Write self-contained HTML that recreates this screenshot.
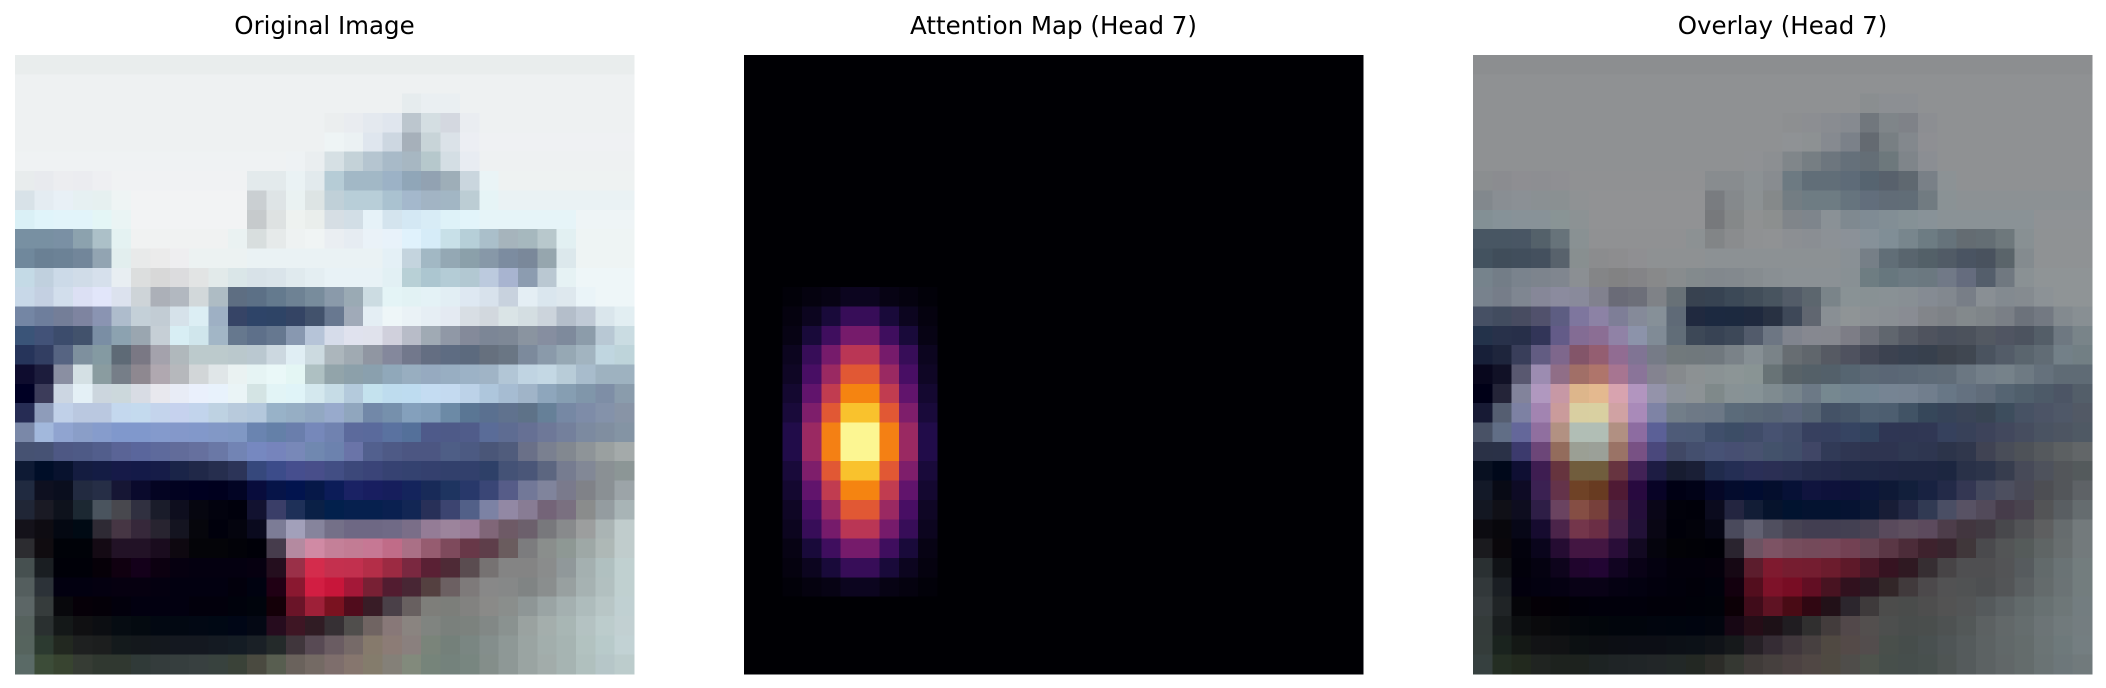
<!DOCTYPE html>
<html><head><meta charset="utf-8">
<style>
html,body{margin:0;padding:0;background:#fff;}
body{width:2106px;height:688px;overflow:hidden;}
svg{display:block;}
text{font-family:"DejaVu Sans","Liberation Sans",sans-serif;font-size:24.5px;fill:#000;}
</style></head>
<body>
<svg id="fig" width="2106" height="688" viewBox="0 0 2106 688" shape-rendering="crispEdges">
  <text x="324.5" y="34" text-anchor="middle">Original Image</text>
  <text x="1053.5" y="34" text-anchor="middle">Attention Map (Head 7)</text>
  <text x="1782.5" y="34" text-anchor="middle">Overlay (Head 7)</text>
  <g id="p1"></g>
  <g id="p2"></g>
  <g id="p3"></g>
</svg>
<script>
// Original 32x32 image pixels (run-length tokens "hex*n")
const imageRows = [
"e9eded*32",
"eef1f2*32",
"eef1f2*20 e6ecee eaeff2*2 eef1f2*9",
"eef1f2*16 ebeeef e9ecf0 e4e9ef e0e6ee bcc6ce d4dee2 d4d8e0 eaedf1 eef1f2*8",
"eef1f2*16 eef4f5 ebf1f3 dfe6ee cdd7e1 a6b0ba c8d4d8 dbe2e8 eceef3 eff1f3*8",
"eff2f3*14 eef2f4 eaeef0 d6e0e4 c4d2d8 b5c5d0 a8bac8 a7b7c2 b6c8cc d4dee4 e8ecf2 eef1f2*8",
"e8eced e8eaee ecedf0 ebecf0 eeeff2 f0f2f3*7 e3eaec e3eaec eaf2f4 e2eaed b6ccd6 a2b8c6 a2b8c6 9cb2c6 90a6b8 92a2b2 9eaeb8 cad6de eaf4f6 eef2f2*7",
"d8e2e8 e4ecf2 e8f0f6 e6f0f2 e6f0f0 eef4f4 f2f3f4*6 cacfd2 dee4e6 eaf2f2 dde4e4 c0d0d8 b8ced8 b8ced8 aac2d0 a4b8cc a2b4c4 a2b6c4 bccdd4 e6f4f6 eaf2f4*7",
"daf0f6 e0f4fa e2f4fa e2f4fa e4f6f6 eaf4f4 f2f3f4*6 c6cacc dee2e2 eef2f0 eaeeec d6dee4 d2dee6 e6f2f8 d4e4ee d4e8f4 d8ecf6 def2f8 e2f4fa e6f4f8*5 eef4f6*3",
"7890a2 7890a2 7a90a4 8ca2ae acc0c8 e4f2f2 f0f2f2*5 eaf2f2 d8dede e6eaea eef2f2 f0f4f4 eaeef2 e6ecf2 eaf2f8 e8f2fa e0f2fc d6ecf8 c8e0e8 b6cfd8 aabfca a6b4bc a6b8be b8c8cc e2f0f2 eef4f4*3",
"70889c 6a8094 6c8296 72869a 92a4b2 e2eeee e8eaea ebebeb eeeef0 ecf2f2*3 eaf2f4*7 e4f0f6 c4d4de a2b8c4 94a8b4 8ba0aa 8798a8 7c8ca0 7a889a 96a6ae dce8ec eef4f4*3",
"c4dae6 c0d0de ccdae8 d0dce8 d6e0ec e8eef2 dcdede d8d8d8 dcdcde e2e4e4 e2eaea dae6e8 d8e2e8 dae4ea e0eaee e4eef2 e8f2f6*3 e2f0f4 b8d0d6 acc6d0 b4ccd6 b2c8d2 bccade a8b4d0 8c9cb0 bac8d2 e6f2f4 eef6f8*3",
"c8d8e8 c4d0e2 d2deec dce0f4 e2e6fa dce2ee ced4d8 acb0b8 b2b8c0 d2d8da aebcc4 5e6e82 5c7086 647a8e 6e8294 788c9c 8a9aaa 9aaab4 ccdce2 e4f4f6 e2f2f4 e4f2f6 e2eef4 dee8f2 d8e2ec c8d2de e4eef4 dae6ee dee8ee eaf4f8 eef6f8*2",
"7486a4 6e7e9c 747e98 7e84a0 8a94b2 aebccc c4d0d8 c2ccd4 d6e2ea dceef4 9eb0c4 364466 2e4468 2e4466 344464 42526c 687890 a0aab8 e4eef4 eef6f8 eaf2f6 e6eef4 e4eaf2 d8dee4 d2d8de dae4e6 d4dee2 ccd4dc b4beca c0cad6 dae6ec e2eef2",
"3a5478 425278 3c4c6c 42526c 7a8ea4 8ca2b0 9aa6b0 c6cfd6 d8eef4 d0e6ec a2b6c6 66788e 5e708a 667890 8898b0 b6c4d8 d6dcea e0e2ee e0e2ec d0d0dc b8bcc8 a0aab4 9098a6 848a9a 7c8696 7e8896 8a94a0 868ea0 7e8a9c 8c9caa b8c8d4 cadce2",
"26345a 323e62 566482 7e909e 849aa2 5e6a76 7a7884 a4a2ac b0b8bc bccacc bccacc bac8cc bac8d0 ccd8e0 e0eef4 ccdae0 acb6bc a0aab2 9096a2 84889c 72788c 646e82 5e6c82 5c6a7e 66707e 6a7684 7c8a9c 8a9aaa 96a8b4 a2b4c0 c0d6e0 bed4da",
"0e0c2e 1c1c3c 8a8fa2 d4e0e4 8a9ca0 767e88 8e8890 b0a8b0 b6b8bc d2d6d8 e0e6e8 eaf2f2 e6f4f4 eaf8f8 e4f6f4 aec0c2 92a4aa 8ca0aa 8aa0ae 90a8ba 98aec0 96aac0 98aec2 9cb2c6 a0b4c6 b2c6d6 c0d4e2 c4d8e4 b8ccd8 a8bccc 9eb2c0 9eb2c0",
"000024 3c3c5a ccd6e2 e4f0f6 ccd6de ccd8dc d8dce4 e8e8ee e8ecf6 eaf0fc e8f2fc eaf4f6 d4e4e4 e2f4f6 e0f4f8 d4e8ee c6dce6 b4cadc c4e2ee bedcee bedcf0 c4dcf2 c4daf0 bcd2e8 aec6dc a6bcd2 a0b4c8 8ea6bc 869eb2 8096aa 7e8ea6 8a9cac",
"262c54 8e9cba c0d0e8 bac8e0 bac8e0 c4d8ee c4daee c4d4ec c6d2ee c2d4ec bed2e2 b8cadc b4c8dc 98b2c8 96aec4 92a8c2 98aacc 90a6be 7288a8 7690ac 84a0bc 809cb8 6c8aa6 5a7694 5a7090 60728e 5e7288 668098 7688a4 7e8ca8 8492aa 8894a6",
"7a88a8 a2b8dc 90a4d0 8a9ec8 869ccc 8098cc 8098cc 849acc 8498ca 8298ca 8298c6 8098c4 6a84b0 6480a8 6a7eac 7688ba 7082b0 5c6a9c 5a6a9c 5a72a0 54709a 4e5a8a 4e5a88 505c8a 5a6c98 5e6c92 667094 6e7898 74809c 7c8aa0 808ea0 8494a4",
"465272 465274 4e5884 4e5a86 525e8c 5a6496 5a669c 5e6a9c 626c9a 66709e 6a78a6 7284b4 7688c0 7684bc 7888b8 7088b0 6c82ae 6a74a8 52608e 4e5a86 4c5682 4c5682 4e5e86 4c5a82 4a5678 505c7c 6a7088 7a8090 828890 8e9498 9aa0a0 a4aaaa",
"0e1a34 000e28 08122e 141c40 141c44 161a48 141a48 161c48 1a2448 202848 262e4e 2c3458 36487c 3c4c8a 464e8e 484e8a 424e84 3c487a 3a4478 364272 344270 34406e 32406c 32406c 2e4068 445276 4a5678 5c6680 767c90 828896 8a9094 8c9696",
"202a40 0e1020 0a0e1e 222a40 262e46 161634 0a0a2c 040422 020220 000020 00001e 020424 080c3c 061448 02144e 061848 0c1c58 1a2264 181e60 161e5c 14245c 182a58 1e3460 28386a 3a4676 565c88 727898 80849c 7a7a8c 808288 8a9094 9ca4a8",
"202636 1a1a24 0e121c 1c2832 4a545e 48484e 303040 1a1c2a 0e0e1e 060610 02020e 00000c 121230 3a3e68 1e3058 0a2046 02204c 06204e 06204e 0a2050 122654 283058 3c4470 526088 7c82a4 9288a4 887c94 746478 7a7080 8a8c8c 949ca0 a8b4b6",
"14121a 0e0c12 040812 000a14 2e2a34 463644 36283a 282430 141420 06060c 00000c 04040e 0a0a1e 7c7c96 a2a0ba 86849c 747088 6e6884 6e6884 706a86 7a6e88 947c96 9c849c 9a7c98 806678 6e5a66 6c606c 78787c 888a8c 9c9e9e aab4b4 c0cccc",
"2c2c30 100c10 000208 000208 140a14 221226 221226 1a0c1e 0e0810 040408 040408 020208 000008 463c4c b48aa0 d08aa4 c48098 c27c94 c67894 c06c88 aa7086 965c70 7e4a5c 683848 5e3e4a 6a5c5e 7c7c7e 8a8e8c 8e9894 9ea8a6 aeb8b6 c0cccc",
"465050 1a1e22 000008 000008 060008 100010 14001a 0c0010 060010 040010 040010 040010 060010 240e1e 9a3048 d42c4c c4304e c2304e b42e48 9c2a42 7a2840 5a2034 4e2a36 5a4c50 767272 848484 848484 8a8c8c 90989a a4b0b0 b0c0c0 c0d0d0",
"545e5e 2c3238 020010 020010 040010 060010 060010 040010 020010 020010 020010 02000c 000210 200014 8a1830 d21e42 c8163a a41838 782034 521c30 482634 544040 6c6062 7e7a7a 888888 868888 808484 8a8e8e 98a0a0 a6b2b2 b2c0c0 c0d0d0",
"5c6666 363c3c 08080c 060008 040008 02000c 020010 020010 020010 02000c 02000c 00020c 00040c 140008 6a1428 9e2038 7a1220 500c1c 381c26 4a4048 686060 7e7e7a 7c7e7a 828280 8a8a88 8a8e8c 8e9696 9aa4a4 a4b0b0 aebcbc b8c6c6 c0d0d2",
"56625e 2a3030 141818 101012 0c0e12 060c12 040a10 020812 020812 020814 000814 000616 040814 260c1e 3e1624 301c24 363034 504e4c 706462 887878 8a8480 808480 7a807c 7c827e 828886 8a9290 9aa2a0 a4aeac a8b6b4 b4c2c2 bccccc c2d0d2",
"56645e 2c3a30 222820 1e2020 1c1e1e 141a1c 14181c 14181e 141820 141820 141a22 141c24 1a2026 242a2a 40363c 584a54 6a5c62 766a68 867a6c 8c7c76 8a807e 7a847a 74807a 7a8682 848e8c 8e9896 9aa4a2 a2aeac a6b4b2 b2c2c0 b8caca c2d2d4",
"5a6a66 3c4c38 384430 363c34 303830 303830 303a38 343c3c 363e3e 384040 38423e 3a4238 4a4a40 585e50 6a625c 746a64 7e6e6c 86766e 847c6c 848078 828a7c 76847a 74827c 788680 848e8a 8e9896 9aa4a2 a2acaa a6b4b2 b0c0be b6c6c8 bccccc"
];
// Attention weights: rows 12..27, cols 2..9 (left half cols 2..5, mirrored)
const attnRowStart = 12;
const attnColStart = 2;
const attnHalfRows = [
 [0.01,0.02,0.03,0.05],
 [0.02,0.05,0.10,0.18],
 [0.03,0.10,0.20,0.33],
 [0.05,0.18,0.33,0.50],
 [0.06,0.22,0.42,0.62],
 [0.08,0.28,0.52,0.73],
 [0.10,0.35,0.62,0.86],
 [0.13,0.42,0.72,0.98]
];
const panelX = [15, 744, 1473];
const panelY = 55, panelSize = 619, N = 32;

const infernoStops = [[0,0,4],[31,12,72],[85,15,109],[136,34,106],[186,54,85],[227,89,51],[249,140,10],[249,201,50],[252,255,164]];
function inferno(v){
  v=Math.max(0,Math.min(1,v));
  const p=v*(infernoStops.length-1), i=Math.min(Math.floor(p),infernoStops.length-2), f=p-i;
  const a=infernoStops[i], b=infernoStops[i+1];
  return [0,1,2].map(k=>a[k]+(b[k]-a[k])*f);
}
function parseRow(s){
  const out=[];
  s.trim().split(/\s+/).forEach(t=>{const [h,n]=t.split('*');for(let i=0;i<(n?+n:1);i++)out.push(h);});
  while(out.length<N) out.push(out[out.length-1]);
  return out.slice(0,N);
}
const img = imageRows.map(parseRow);
const attn = [];
for(let r=0;r<N;r++){attn.push(new Array(N).fill(0));}
const fullRows = attnHalfRows.concat(attnHalfRows.slice().reverse());
fullRows.forEach((hr,ri)=>{
  const full = hr.concat(hr.slice().reverse());
  full.forEach((v,ci)=>{attn[attnRowStart+ri][attnColStart+ci]=v;});
});
const cs = panelSize/N;
const NS='http://www.w3.org/2000/svg';
function hexRgb(h){return [parseInt(h.slice(0,2),16),parseInt(h.slice(2,4),16),parseInt(h.slice(4,6),16)];}
function rgb(c){return 'rgb('+c.map(x=>Math.round(x)).join(',')+')';}
function cell(g,px,r,c,color){
  const el=document.createElementNS(NS,'rect');
  el.setAttribute('x',(px+c*cs).toFixed(2));
  el.setAttribute('y',(panelY+r*cs).toFixed(2));
  el.setAttribute('width',(cs+0.6).toFixed(2));
  el.setAttribute('height',(cs+0.6).toFixed(2));
  el.setAttribute('fill',color);
  
  
  g.appendChild(el);
}
const g1=document.getElementById('p1'),g2=document.getElementById('p2'),g3=document.getElementById('p3');
for(let r=0;r<N;r++)for(let c=0;c<N;c++){
  const o=hexRgb(img[r][c]);
  const h=inferno(attn[r][c]);
  cell(g1,panelX[0],r,c,rgb(o));
  cell(g2,panelX[1],r,c,rgb(h));
  cell(g3,panelX[2],r,c,rgb(o.map((x,k)=>0.6*x+0.4*h[k])));
}
</script>
</body></html>
